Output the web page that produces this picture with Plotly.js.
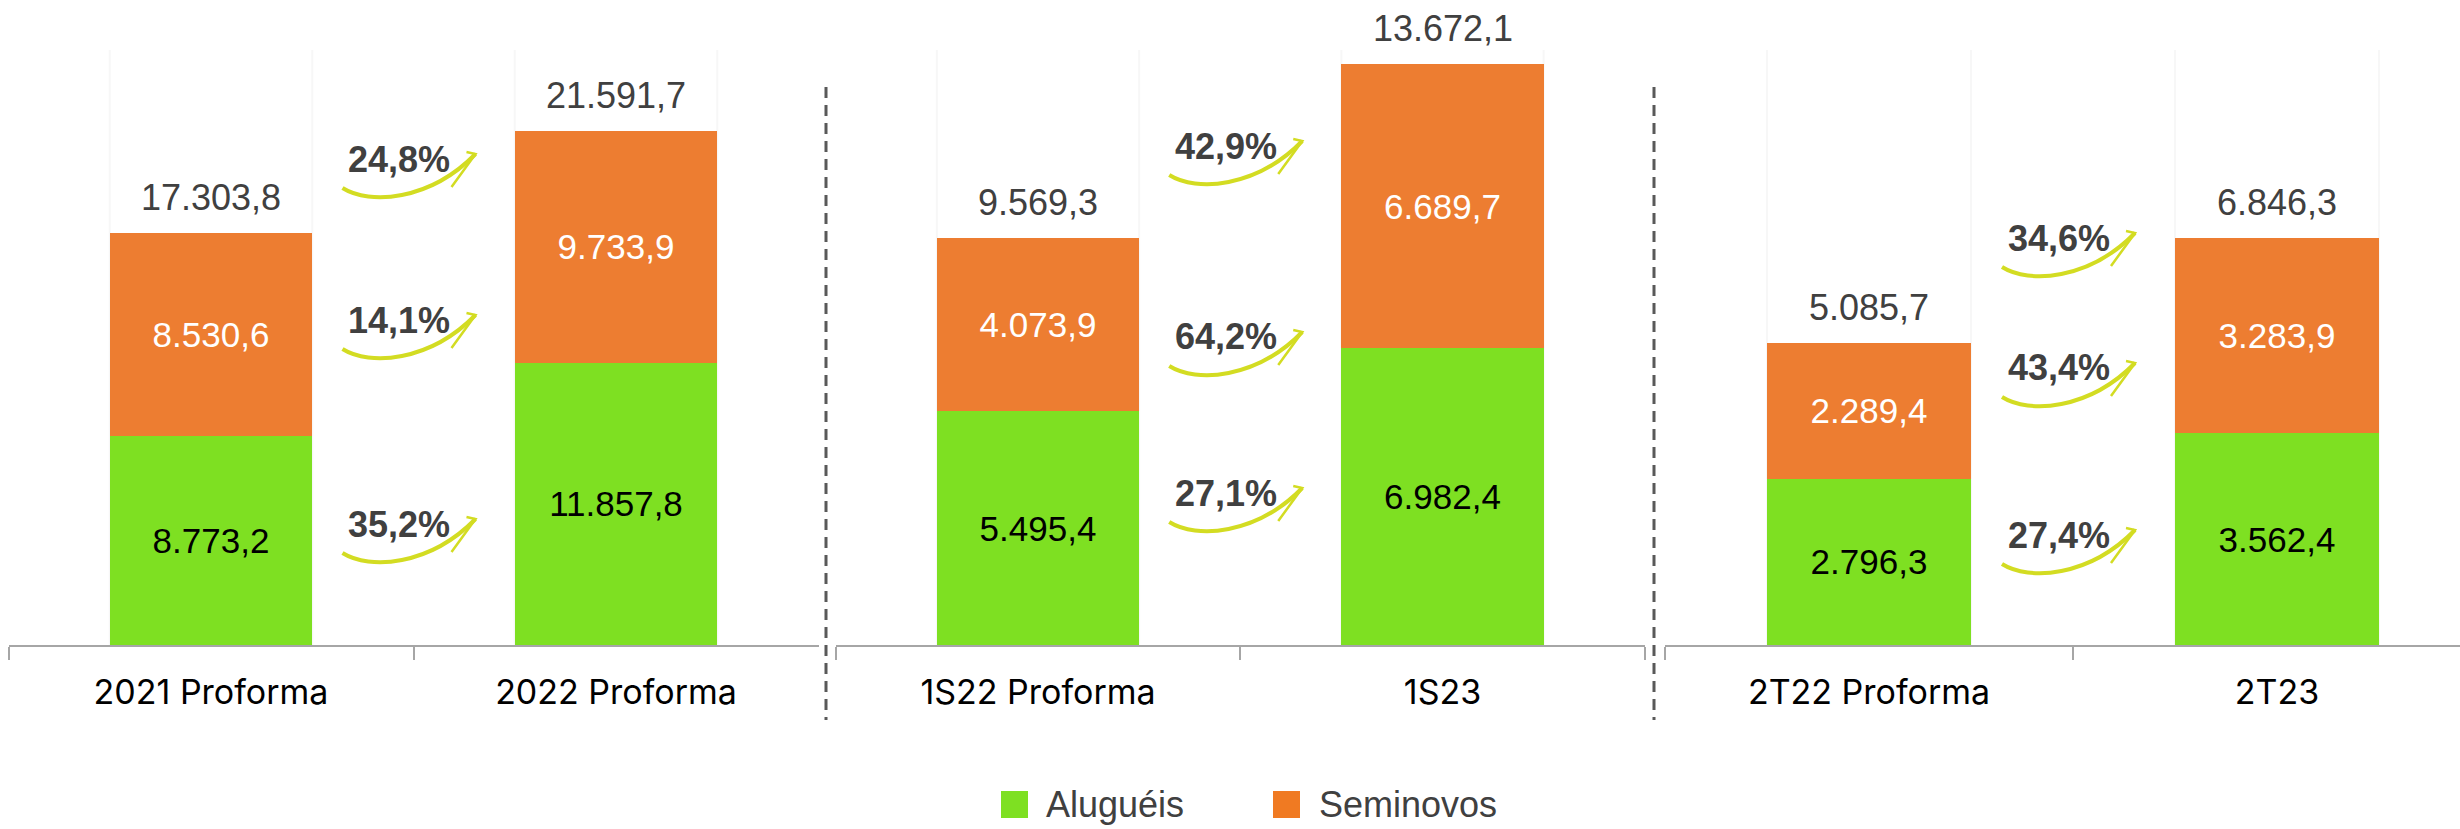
<!DOCTYPE html>
<html><head><meta charset="utf-8">
<script src="https://cdn.plot.ly/plotly-3.0.1.min.js"></script>
<style>html,body{margin:0;padding:0;background:#fff;} #chart{width:2460px;height:829px;}</style>
</head><body><div id="chart"></div>
<script>
// ---------------- data ----------------
const categories1 = ['2021 Proforma', '2022 Proforma'];
const categories2 = ['1S22 Proforma', '1S23'];
const categories3 = ['2T22 Proforma', '2T23'];

const alugueis1 = [8773.2, 11857.8];
const seminovos1 = [8530.6, 9733.9];
const totals1 = [17303.8, 21591.7];

const alugueis2 = [5495.4, 6982.4];
const seminovos2 = [4073.9, 6689.7];
const totals2 = [9569.3, 13672.1];

const alugueis3 = [2796.3, 3562.4];
const seminovos3 = [2289.4, 3283.9];
const totals3 = [5085.7, 6846.3];

const growthTotal = ['24,8%', '42,9%', '34,6%'];
const growthSeminovos = ['14,1%', '64,2%', '43,4%'];
const growthAlugueis = ['35,2%', '27,1%', '27,4%'];

const seriesNames = ['Aluguéis', 'Seminovos'];

// ---------------- layout constants ----------------
const W = 2460, H = 829, AXIS_Y = 645;
const GREEN = '#7ee022', ORANGE = '#ed7d31', DARK = '#404040', ARROW = '#d3dc22';
const VALUE_FONT = 'Liberation Sans, Arial, sans-serif';
const TICK_FONT = 'Inter, Liberation Sans, sans-serif';

const groups = [
  {cats: categories1, alug: alugueis1, semi: seminovos1, tot: totals1, dom: [8.5, 818.5], rng: [-0.5, 1.5], yMax: 27094, pctY: [159, 320, 524], boundary: 413.5},
  {cats: categories2, alug: alugueis2, semi: seminovos2, tot: totals2, dom: [835.75, 1644.75], rng: [-0.5, 1.5], yMax: 15178, pctY: [146, 337, 493], boundary: 1240.25},
  {cats: categories3, alug: alugueis3, semi: seminovos3, tot: totals3, dom: [1665, 2460], rng: [-0.5, -0.5 + 795 / 408], yMax: 10850, pctY: [238, 368, 535], boundary: 2073}
];
const growth = [growthTotal, growthSeminovos, growthAlugueis];

function fmt(v) {
  const s = v.toFixed(1);
  const parts = s.split('.');
  const intPart = parts[0].replace(/\B(?=(\d{3})+(?!\d))/g, '.');
  return intPart + ',' + parts[1];
}
const PX = x => x / W;
const PY = y => 1 - y / H;

const data = [];
const layout = {
  width: W, height: H,
  margin: {l: 0, r: 0, t: 0, b: 0},
  paper_bgcolor: '#ffffff', plot_bgcolor: 'rgba(0,0,0,0)',
  barmode: 'stack', showlegend: false,
  annotations: [], shapes: []
};

groups.forEach((g, i) => {
  const s = i === 0 ? '' : String(i + 1);
  const xa = 'x' + s, ya = 'y' + s;
  data.push({
    type: 'bar', name: seriesNames[0], x: g.cats, y: g.alug, xaxis: xa, yaxis: ya,
    width: 0.5, marker: {color: GREEN},
    text: g.alug.map(fmt), textposition: 'inside', insidetextanchor: 'middle', textangle: 0,
    constraintext: 'none',
    textfont: {family: VALUE_FONT, size: 35, color: '#000000'}, hoverinfo: 'skip'
  });
  data.push({
    type: 'bar', name: seriesNames[1], x: g.cats, y: g.semi, xaxis: xa, yaxis: ya,
    width: 0.5, marker: {color: ORANGE},
    text: g.semi.map(fmt), textposition: 'inside', insidetextanchor: 'middle', textangle: 0,
    constraintext: 'none',
    textfont: {family: VALUE_FONT, size: 35, color: '#ffffff'}, hoverinfo: 'skip'
  });
  layout['xaxis' + (s || '')] = {
    domain: [PX(g.dom[0]), PX(g.dom[1])], range: g.rng, type: 'category', anchor: ya,
    showline: true, linecolor: '#a6a6a6', linewidth: 2,
    ticks: 'outside', tickson: 'boundaries', ticklen: 13, tickwidth: 2, tickcolor: '#a6a6a6',
    showgrid: false, zeroline: false, fixedrange: true,
    tickfont: {family: TICK_FONT, size: 34, color: '#000000'}, ticklabelstandoff: 16
  };
  layout['yaxis' + (s || '')] = {
    domain: [1 - AXIS_Y / H, 1], range: [0, g.yMax], visible: false, fixedrange: true, anchor: xa
  };
  // totals above bars
  g.tot.forEach((t, j) => {
    layout.annotations.push({
      xref: xa, yref: ya, x: g.cats[j], y: t, yanchor: 'bottom', yshift: 13, showarrow: false,
      text: fmt(t), font: {family: VALUE_FONT, size: 36, color: DARK}
    });
    // faint column edges
    [-0.25, 0.25].forEach(d => {
      layout.shapes.push({type: 'line', xref: xa, yref: 'paper', x0: j + d, x1: j + d,
        y0: PY(AXIS_Y), y1: PY(50), line: {color: '#f7f7f7', width: 2}, layer: 'below'});
    });
  });
  // growth labels + arrows
  g.pctY.forEach((py, k) => {
    const cx = g.boundary - 14;
    layout.annotations.push({
      xref: 'paper', yref: 'paper', x: PX(cx), y: PY(py), xanchor: 'center', yanchor: 'middle',
      showarrow: false, text: growth[k][i],
      font: {family: VALUE_FONT, size: 36, color: DARK, weight: 700}
    });
    const P = (dx, dy) => PX(cx + dx).toFixed(5) + ',' + PY(py + dy).toFixed(5);
    layout.shapes.push({type: 'path', xref: 'paper', yref: 'paper',
      path: 'M' + P(-57, 29) + ' C' + P(-30, 46) + ' ' + P(30, 42) + ' ' + P(76, -5),
      line: {color: ARROW, width: 4}});
    layout.shapes.push({type: 'path', xref: 'paper', yref: 'paper',
      path: 'M' + P(52, 28) + ' L' + P(76, -5) + ' L' + P(67, -7),
      line: {color: ARROW, width: 2.5}});
  });
});

// dashed separators
[826, 1654].forEach(x => {
  layout.shapes.push({type: 'line', xref: 'paper', yref: 'paper', x0: PX(x), x1: PX(x),
    y0: PY(87), y1: PY(720), line: {color: '#595959', width: 3, dash: '11px,7px'}});
});

// legend
const legendItems = [
  {name: seriesNames[0], color: GREEN, sq: 1001, tx: 1044},
  {name: seriesNames[1], color: '#f07a22', sq: 1273, tx: 1317}
];
legendItems.forEach(it => {
  layout.shapes.push({type: 'rect', xref: 'paper', yref: 'paper',
    x0: PX(it.sq), x1: PX(it.sq + 27), y0: PY(818), y1: PY(791),
    fillcolor: it.color, line: {width: 0}});
  layout.annotations.push({xref: 'paper', yref: 'paper', x: PX(it.tx), y: PY(804),
    xanchor: 'left', yanchor: 'middle', showarrow: false, text: it.name,
    font: {family: VALUE_FONT, size: 36, color: DARK}});
});

Plotly.newPlot('chart', data, layout, {staticPlot: true, displayModeBar: false});
</script>
</body></html>
